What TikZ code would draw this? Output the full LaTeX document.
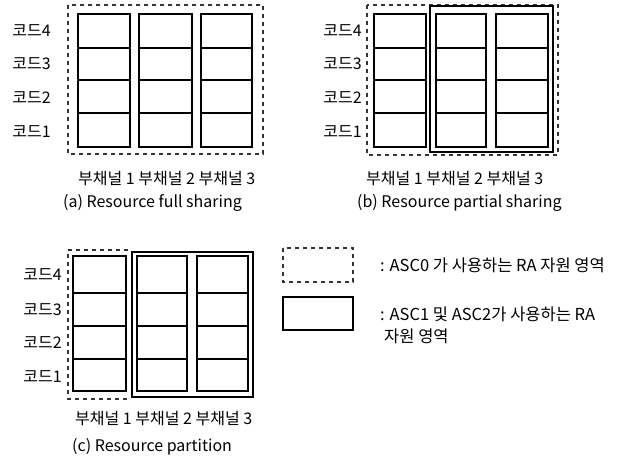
\documentclass[tikz,border=0pt]{standalone}
\usepackage{fontspec}
\setmainfont{Noto Sans CJK KR}
\begin{document}
\begin{tikzpicture}[x=1pt,y=-1pt,
  cellbox/.style={draw=black, line width=1.3pt},
  asczero/.style={draw=black!80, line width=1.4pt, dash pattern=on 4pt off 4pt},
  ascrest/.style={draw=black, line width=1.8pt},
  codelbl/.style={anchor=east, inner sep=0pt, font=\fontsize{16}{18}\selectfont},
  chlbl/.style={anchor=west, inner sep=0pt, font=\fontsize{16}{18}\selectfont},
  captxt/.style={anchor=west, inner sep=0pt, font=\fontsize{16}{18}\selectfont},
  legtxt/.style={anchor=west, inner sep=0pt, align=left, font=\fontsize{16.5}{22}\selectfont}]
\useasboundingbox (0,0) rectangle (624,470);
\fill[white] (0,0) rectangle (624,470);

% ---------- panel (a)
\foreach \xa/\xb in {78/130,139/192,201/252}{
  \draw[cellbox] (\xa,14) rectangle (\xb,147);
  \foreach \yy in {48,80,113} \draw[cellbox] (\xa,\yy) -- (\xb,\yy);
}
\draw[asczero] (68,5) rectangle (263,154);
\node[codelbl] (a4) at (51,31) {코드4};
\node[codelbl] (a3) at (51,64) {코드3};
\node[codelbl] (a2) at (51,98) {코드2};
\node[codelbl] (a1) at (51,132) {코드1};
\node[chlbl] (ach) at (78,179) {부채널 1 부채널 2 부채널 3};
\node[captxt] (acap) at (63,203) {(a) Resource full sharing};

% ---------- panel (b)
\foreach \xa/\xb in {374/426,436/486,496/548}{
  \draw[cellbox] (\xa,14) rectangle (\xb,147);
  \foreach \yy in {48,80,113} \draw[cellbox] (\xa,\yy) -- (\xb,\yy);
}
\draw[asczero] (367,5) rectangle (558,155);
\draw[ascrest] (430,6) rectangle (553,152);
\node[codelbl] (b4) at (362,31) {코드4};
\node[codelbl] (b3) at (362,64) {코드3};
\node[codelbl] (b2) at (362,98) {코드2};
\node[codelbl] (b1) at (362,132) {코드1};
\node[chlbl] (bch) at (366,179) {부채널 1 부채널 2 부채널 3};
\node[captxt] (bcap) at (357,203) {(b) Resource partial sharing};

% ---------- panel (c)
\foreach \xa/\xb in {73/126,137/187,197/248}{
  \draw[cellbox] (\xa,256) rectangle (\xb,391);
  \foreach \yy in {293,326,359} \draw[cellbox] (\xa,\yy) -- (\xb,\yy);
}
\draw[asczero] (128,250) -- (68,250) -- (68,399) -- (128,399);
\draw[ascrest] (132,252) rectangle (253,397);
\node[codelbl] (c4) at (62,275) {코드4};
\node[codelbl] (c3) at (62,310) {코드3};
\node[codelbl] (c2) at (62,343) {코드2};
\node[codelbl] (c1) at (62,377) {코드1};
\node[chlbl] (cch) at (75,419) {부채널 1 부채널 2 부채널 3};
\node[captxt] (ccap) at (72,447) {(c) Resource partition};

% ---------- legend
\draw[asczero] (283,248) rectangle (353,282);
\draw[ascrest] (283,297) rectangle (353,330);
\node[legtxt] (l1) at (380,265) {: ASC0 가 사용하는 RA 자원 영역};
\node[legtxt, anchor=north west] (l2) at (380,307) {: ASC1 및 ASC2가 사용하는 RA\\\hspace*{4pt}자원 영역};
\end{tikzpicture}
\end{document}
